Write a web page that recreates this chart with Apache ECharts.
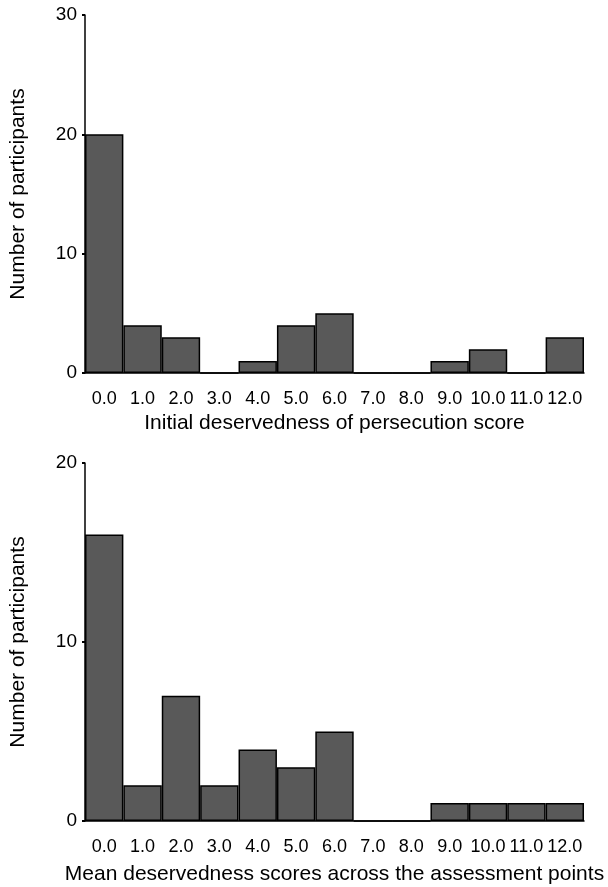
<!DOCTYPE html>
<html><head><meta charset="utf-8">
<script src="https://cdn.jsdelivr.net/npm/echarts@6/dist/echarts.min.js"></script>
<style>html,body{margin:0;padding:0;background:#fff}#c{width:608px;height:887px}</style>
</head><body><div id="c"></div>
<script>
const categories = ['0.0','1.0','2.0','3.0','4.0','5.0','6.0','7.0','8.0','9.0','10.0','11.0','12.0'];
const initialCounts = [20,4,3,0,1,4,5,0,0,1,2,0,3];
const meanCounts = [16,2,7,2,4,3,5,0,0,1,1,1,1];
const topTicks = [0,10,20,30];
const bottomTicks = [0,10,20];
const topXName = 'Initial deservedness of persecution score';
const bottomXName = 'Mean deservedness scores across the assessment points';
const yName = 'Number of participants';

const font = 'Liberation Sans, Arial, Helvetica, sans-serif';
const txt = {color:'#000', fontFamily:font};
function xAxis(idx, name, gap){
  return {type:'category', gridIndex:idx, data:categories, name:name, nameLocation:'middle', nameGap:gap,
    nameTextStyle:Object.assign({}, txt, {fontSize:21}),
    axisLine:{lineStyle:{color:'#000', width:1.5}},
    axisTick:{alignWithLabel:true, length:3, lineStyle:{color:'#000', width:2}},
    axisLabel:Object.assign({}, txt, {fontSize:18, margin:17, interval:0})};
}
function yAxis(idx, max){
  return {type:'value', gridIndex:idx, min:0, max:max, interval:10, name:yName, nameLocation:'middle', nameGap:56,
    nameTextStyle:Object.assign({}, txt, {fontSize:21}),
    axisLine:{show:true, lineStyle:{color:'#000', width:1.5}},
    axisTick:{show:true, length:3, lineStyle:{color:'#000', width:2}},
    splitLine:{show:false},
    axisLabel:Object.assign({}, txt, {fontSize:19, margin:8})};
}
const barStyle = {color:'#595959', borderColor:'#000', borderWidth:1.5};
const chart = echarts.init(document.getElementById('c'));
chart.setOption({
  animation:false,
  grid:[{left:83, top:15, width:501, height:358},{left:83, top:463, width:501, height:358}],
  xAxis:[xAxis(0, topXName, 40), xAxis(1, bottomXName, 43)],
  yAxis:[yAxis(0, topTicks[topTicks.length-1]), yAxis(1, bottomTicks[bottomTicks.length-1])],
  series:[
    {type:'bar', xAxisIndex:0, yAxisIndex:0, data:initialCounts, barCategoryGap:'0%', itemStyle:barStyle},
    {type:'bar', xAxisIndex:1, yAxisIndex:1, data:meanCounts, barCategoryGap:'0%', itemStyle:barStyle}
  ]
});
</script></body></html>
